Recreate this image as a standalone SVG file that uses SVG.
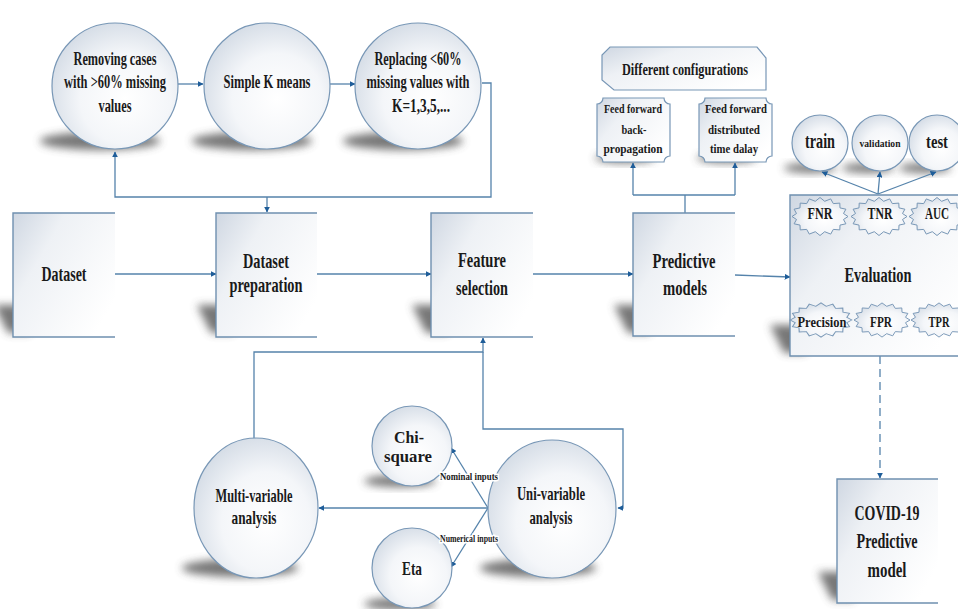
<svg xmlns="http://www.w3.org/2000/svg" width="958" height="609" viewBox="0 0 958 609">
<defs>
<style>
.t{font-family:"Liberation Serif","Times New Roman",serif;font-weight:bold;fill:#1a1a1a;text-anchor:middle}
.box{fill:url(#gBox)}
.edge{fill:none;stroke:#6f90b0;stroke-width:1.4}
.circ{fill:url(#gCirc);stroke:#7897b6;stroke-width:1.2}
.sh{fill:#4a4a4a;opacity:.75;filter:url(#blur)}
.con{fill:none;stroke:#5583ab;stroke-width:1.3}
.lbl{paint-order:stroke;stroke:#fff;stroke-width:3}
.badge{fill:url(#gCirc);stroke:#7897b6;stroke-width:1}
</style>
<linearGradient id="gBox" x1="0" y1="0" x2="1" y2="0.7">
<stop offset="0" stop-color="#cfd7e2"/>
<stop offset="0.35" stop-color="#eef1f5"/>
<stop offset="1" stop-color="#ffffff"/>
</linearGradient>
<radialGradient id="gCirc" cx="0.58" cy="0.6" r="0.65">
<stop offset="0" stop-color="#ffffff"/>
<stop offset="0.55" stop-color="#f4f6f9"/>
<stop offset="1" stop-color="#d3dbe5"/>
</radialGradient>
<filter id="blur" x="-50%" y="-50%" width="200%" height="200%"><feGaussianBlur stdDeviation="4"/></filter>
<marker id="arr" viewBox="0 0 10 10" refX="9" refY="5" markerWidth="6" markerHeight="6" orient="auto" markerUnits="userSpaceOnUse">
<path d="M0,0 L10,5 L0,10 Z" fill="#1e5d99"/>
</marker>
<polygon id="star" points="28,0 23.5,3 25.9,7.3 20,8.6 19.8,13.4 13.3,12.9 10.7,17.6 4.7,15.2 0,19 -4.7,15.2 -10.7,17.6 -13.3,12.9 -19.8,13.4 -20,8.6 -25.9,7.3 -23.5,3 -28,0 -23.5,-3 -25.9,-7.3 -20,-8.6 -19.8,-13.4 -13.3,-12.9 -10.7,-17.6 -4.7,-15.2 0,-19 4.7,-15.2 10.7,-17.6 13.3,-12.9 19.8,-13.4 20,-8.6 25.9,-7.3 23.5,-3"/>
</defs>
<rect width="958" height="609" fill="#ffffff"/>

<!-- shadows -->
<g id="shadows">
<ellipse class="sh" cx="100" cy="141" rx="60" ry="9"/>
<ellipse class="sh" cx="252" cy="141" rx="60" ry="9"/>
<ellipse class="sh" cx="403" cy="141" rx="60" ry="9"/>
<ellipse class="sh" cx="240" cy="568" rx="58" ry="9"/>
<ellipse class="sh" cx="538" cy="568" rx="58" ry="9"/>
<ellipse class="sh" cx="400" cy="481" rx="36" ry="6"/>
<ellipse class="sh" cx="400" cy="604" rx="36" ry="6"/>
<ellipse class="sh" cx="810" cy="168" rx="26" ry="5"/>
<ellipse class="sh" cx="868" cy="168" rx="26" ry="5"/>
<ellipse class="sh" cx="925" cy="168" rx="26" ry="5"/>
<ellipse class="sh" cx="625" cy="158" rx="30" ry="5"/>
<ellipse class="sh" cx="727" cy="158" rx="30" ry="5"/>
<polygon class="sh" points="-6,305 30,305 30,333 8,333"/>
<polygon class="sh" points="197,305 233,305 233,333 211,333"/>
<polygon class="sh" points="412,305 448,305 448,333 426,333"/>
<polygon class="sh" points="614,305 650,305 650,333 628,333"/>
<polygon class="sh" points="770,325 806,325 806,353 784,353"/>
<polygon class="sh" points="818,572 854,572 854,600 832,600"/>
</g>

<!-- connectors -->
<g id="connectors">
<line class="con" x1="178" y1="84" x2="203" y2="84" marker-end="url(#arr)"/>
<line class="con" x1="330" y1="84" x2="355" y2="84" marker-end="url(#arr)"/>
<path class="con" d="M482,83 H491 V197 H115 V152" marker-end="url(#arr)"/>
<path class="con" d="M267,197 V212" marker-end="url(#arr)"/>
<line class="con" x1="115" y1="274" x2="216" y2="274" marker-end="url(#arr)"/>
<line class="con" x1="317" y1="274" x2="431" y2="274" marker-end="url(#arr)"/>
<line class="con" x1="533" y1="274" x2="633" y2="274" marker-end="url(#arr)"/>
<line class="con" x1="735" y1="275" x2="790" y2="277" marker-end="url(#arr)"/>
<path class="con" d="M685,213 V195"/>
<path class="con" d="M633,195 H735"/>
<path class="con" d="M633,195 V163" marker-end="url(#arr)"/>
<path class="con" d="M735,195 V163" marker-end="url(#arr)"/>
<line class="con" x1="878" y1="194" x2="822" y2="172" marker-end="url(#arr)"/>
<line class="con" x1="878" y1="194" x2="880" y2="172" marker-end="url(#arr)"/>
<line class="con" x1="878" y1="194" x2="936" y2="172" marker-end="url(#arr)"/>
<line class="con" x1="880" y1="356" x2="880" y2="478" stroke-dasharray="8,5" marker-end="url(#arr)"/>
<path class="con" d="M254,440 V352 H483 V338" marker-end="url(#arr)"/>
<path class="con" d="M483,352 V429 H623 V508 H618" marker-end="url(#arr)"/>
<line class="con" x1="488" y1="508" x2="319" y2="508" marker-end="url(#arr)"/>
<line class="con" x1="488" y1="508" x2="451" y2="448" marker-end="url(#arr)"/>
<line class="con" x1="488" y1="508" x2="451" y2="567" marker-end="url(#arr)"/>
</g>

<!-- top circles -->
<g id="n-remove">
<circle class="circ" cx="115" cy="86" r="63"/>
<text class="t" font-size="18" x="115" y="65" textLength="83" lengthAdjust="spacingAndGlyphs">Removing cases</text>
<text class="t" font-size="18" x="115" y="88" textLength="102" lengthAdjust="spacingAndGlyphs">with &gt;60% missing</text>
<text class="t" font-size="18" x="115" y="112" textLength="33" lengthAdjust="spacingAndGlyphs">values</text>
</g>
<g id="n-kmeans">
<circle class="circ" cx="267" cy="86" r="63"/>
<text class="t" font-size="18" x="267" y="88" textLength="87" lengthAdjust="spacingAndGlyphs">Simple K means</text>
</g>
<g id="n-replace">
<circle class="circ" cx="418" cy="86" r="63"/>
<text class="t" font-size="18" x="418" y="65" textLength="87" lengthAdjust="spacingAndGlyphs">Replacing &lt;60%</text>
<text class="t" font-size="18" x="418" y="88" textLength="103" lengthAdjust="spacingAndGlyphs">missing values with</text>
<text class="t" font-size="18" x="421" y="112" textLength="58" lengthAdjust="spacingAndGlyphs">K=1,3,5,...</text>
</g>

<!-- main boxes -->
<g id="n-dataset">
<rect class="box" x="13" y="213" width="102" height="124"/>
<path class="edge" d="M115,213 H13 V337 H115"/>
<text class="t" font-size="22" x="64" y="281" textLength="45" lengthAdjust="spacingAndGlyphs">Dataset</text>
</g>
<g id="n-prep">
<rect class="box" x="216" y="213" width="101" height="124"/>
<path class="edge" d="M317,213 H216 V337 H317"/>
<text class="t" font-size="22" x="266" y="268" textLength="46" lengthAdjust="spacingAndGlyphs">Dataset</text>
<text class="t" font-size="22" x="266" y="292" textLength="73" lengthAdjust="spacingAndGlyphs">preparation</text>
</g>
<g id="n-feature">
<rect class="box" x="431" y="213" width="102" height="124"/>
<path class="edge" d="M533,213 H431 V337 H533"/>
<text class="t" font-size="22" x="482" y="267" textLength="48" lengthAdjust="spacingAndGlyphs">Feature</text>
<text class="t" font-size="22" x="482" y="295" textLength="52" lengthAdjust="spacingAndGlyphs">selection</text>
</g>
<g id="n-predictive">
<rect class="box" x="633" y="213" width="102" height="123"/>
<path class="edge" d="M735,213 H633 V336 H735"/>
<text class="t" font-size="22" x="684" y="268" textLength="63" lengthAdjust="spacingAndGlyphs">Predictive</text>
<text class="t" font-size="22" x="685" y="295" textLength="44" lengthAdjust="spacingAndGlyphs">models</text>
</g>

<!-- configurations -->
<g id="n-configs">
<path d="M610,47 H757 L766,58 V90 H614 L602,80 V55 Z" fill="url(#gBox)" stroke="#7897b6" stroke-width="1.2"/>
<text class="t" font-size="17" x="685" y="75" textLength="126" lengthAdjust="spacingAndGlyphs">Different configurations</text>
</g>
<g id="n-ffbp">
<path d="M603,98 H664 A6,6 0 0 0 670,104 V156 A6,6 0 0 0 664,162 H603 A6,6 0 0 0 597,156 V104 A6,6 0 0 0 603,98 Z" fill="url(#gBox)" stroke="#7897b6" stroke-width="1.2"/>
<text class="t" font-size="13" x="633" y="113" textLength="58" lengthAdjust="spacingAndGlyphs">Feed forward</text>
<text class="t" font-size="13" x="634" y="134" textLength="25" lengthAdjust="spacingAndGlyphs">back-</text>
<text class="t" font-size="13" x="633" y="153" textLength="59" lengthAdjust="spacingAndGlyphs">propagation</text>
</g>
<g id="n-fftd">
<path d="M705,98 H766 A6,6 0 0 0 772,104 V156 A6,6 0 0 0 766,162 H705 A6,6 0 0 0 699,156 V104 A6,6 0 0 0 705,98 Z" fill="url(#gBox)" stroke="#7897b6" stroke-width="1.2"/>
<text class="t" font-size="13" x="736" y="113" textLength="62" lengthAdjust="spacingAndGlyphs">Feed forward</text>
<text class="t" font-size="13" x="734" y="134" textLength="52" lengthAdjust="spacingAndGlyphs">distributed</text>
<text class="t" font-size="13" x="734" y="153" textLength="48" lengthAdjust="spacingAndGlyphs">time dalay</text>
</g>

<!-- train / validation / test -->
<g id="n-train">
<circle class="circ" cx="820" cy="143" r="28"/>
<text class="t" font-size="20" x="820" y="148" textLength="30" lengthAdjust="spacingAndGlyphs">train</text>
</g>
<g id="n-validation">
<circle class="circ" cx="880" cy="143" r="28"/>
<text class="t" font-size="11" x="880" y="147" textLength="41" lengthAdjust="spacingAndGlyphs">validation</text>
</g>
<g id="n-test">
<circle class="circ" cx="937" cy="143" r="28"/>
<text class="t" font-size="19" x="937" y="148" textLength="22" lengthAdjust="spacingAndGlyphs">test</text>
</g>

<!-- evaluation -->
<g id="n-evaluation">
<rect class="box" x="790" y="195" width="180" height="161"/>
<path class="edge" d="M970,195 H790 V356 H970"/>
<use href="#star" class="badge" transform="translate(820,216.5)"/>
<use href="#star" class="badge" transform="translate(879,216.5)"/>
<use href="#star" class="badge" transform="translate(937,216.5)"/>
<use href="#star" class="badge" transform="translate(821,320) scale(1.1,0.9)"/>
<use href="#star" class="badge" transform="translate(882,320) scale(1,0.9)"/>
<use href="#star" class="badge" transform="translate(939,320) scale(1,0.9)"/>
<text class="t" font-size="17" x="820" y="219" textLength="25" lengthAdjust="spacingAndGlyphs">FNR</text>
<text class="t" font-size="17" x="880" y="219" textLength="25" lengthAdjust="spacingAndGlyphs">TNR</text>
<text class="t" font-size="16" x="937" y="219" textLength="24" lengthAdjust="spacingAndGlyphs">AUC</text>
<text class="t" font-size="20" x="878" y="282" textLength="67" lengthAdjust="spacingAndGlyphs">Evaluation</text>
<text class="t" font-size="15" x="822" y="327" textLength="49" lengthAdjust="spacingAndGlyphs">Precision</text>
<text class="t" font-size="15" x="881" y="327" textLength="22" lengthAdjust="spacingAndGlyphs">FPR</text>
<text class="t" font-size="15" x="939" y="327" textLength="21" lengthAdjust="spacingAndGlyphs">TPR</text>
</g>

<!-- covid model -->
<g id="n-covid">
<rect class="box" x="837" y="479" width="101" height="124"/>
<path class="edge" d="M938,479 H837 V603 H938"/>
<text class="t" font-size="22" x="887" y="520" textLength="65" lengthAdjust="spacingAndGlyphs">COVID-19</text>
<text class="t" font-size="22" x="887" y="548" textLength="61" lengthAdjust="spacingAndGlyphs">Predictive</text>
<text class="t" font-size="22" x="887" y="577" textLength="39" lengthAdjust="spacingAndGlyphs">model</text>
</g>

<!-- bottom circles -->
<g id="n-multi">
<ellipse class="circ" cx="256" cy="508" rx="62" ry="70"/>
<text class="t" font-size="19" x="254" y="502" textLength="77" lengthAdjust="spacingAndGlyphs">Multi-variable</text>
<text class="t" font-size="19" x="254" y="524" textLength="45" lengthAdjust="spacingAndGlyphs">analysis</text>
</g>
<g id="n-uni">
<ellipse class="circ" cx="552" cy="509" rx="64" ry="69"/>
<text class="t" font-size="19" x="551" y="500" textLength="68" lengthAdjust="spacingAndGlyphs">Uni-variable</text>
<text class="t" font-size="19" x="551" y="524" textLength="43" lengthAdjust="spacingAndGlyphs">analysis</text>
</g>
<g id="n-chi">
<circle class="circ" cx="412" cy="446" r="40"/>
<text class="t" font-size="17" x="409" y="443" textLength="30" lengthAdjust="spacingAndGlyphs">Chi-</text>
<text class="t" font-size="17" x="408" y="462" textLength="48" lengthAdjust="spacingAndGlyphs">square</text>
</g>
<g id="n-eta">
<circle class="circ" cx="412" cy="568" r="40"/>
<text class="t" font-size="19" x="412" y="575" textLength="20" lengthAdjust="spacingAndGlyphs">Eta</text>
</g>
<g id="labels">
<text class="t lbl" font-size="10" x="469" y="480" textLength="58" lengthAdjust="spacingAndGlyphs">Nominal inputs</text>
<text class="t lbl" font-size="10" x="469" y="542" textLength="58" lengthAdjust="spacingAndGlyphs">Numerical inputs</text>
</g>
</svg>
